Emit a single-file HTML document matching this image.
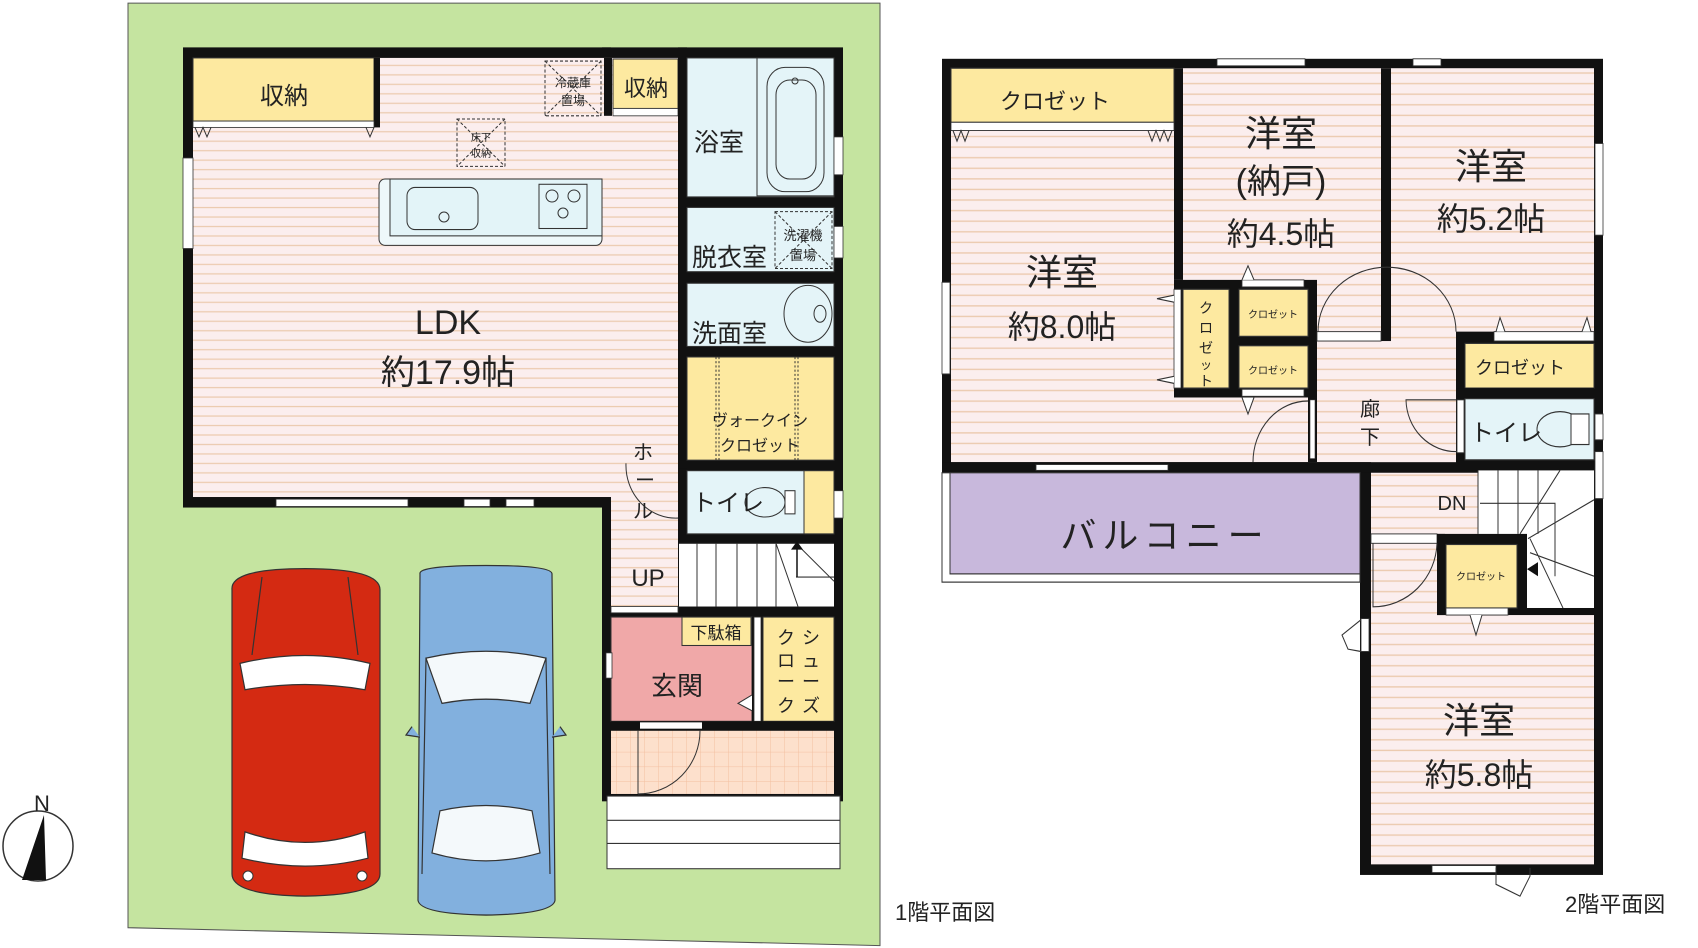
<!DOCTYPE html>
<html><head><meta charset="utf-8"><style>
html,body{margin:0;padding:0;background:#fff;}
svg{display:block}
text{font-family:"Liberation Sans","Noto Sans CJK JP",sans-serif;fill:#222}
</style></head><body>
<svg width="1698" height="948" viewBox="0 0 1698 948" xmlns="http://www.w3.org/2000/svg">
<defs>
<pattern id="fl" width="10" height="9" patternUnits="userSpaceOnUse">
<rect width="10" height="9" fill="#fbeeee"/><rect y="7.5" width="10" height="1.2" fill="#eccbb0"/>
</pattern>
<pattern id="tile" width="14" height="14" patternUnits="userSpaceOnUse">
<rect width="14" height="14" fill="#fde0cc"/><path d="M0 0H14M0 0V14" stroke="#f3bfa0" stroke-width="1"/>
</pattern>
</defs>

<g transform="scale(1,1.053)">
<polygon points="128,3 880,3 880,898 128,881" fill="#c5e4a0" stroke="#555" stroke-width="1"/>
<rect x="183" y="45" width="428" height="437" fill="#111"/>
<rect x="602" y="45" width="241" height="716" fill="#111"/>
<rect x="193" y="55" width="485" height="417" fill="url(#fl)"/>
<rect x="611" y="439" width="67" height="137" fill="url(#fl)"/>
<rect x="193" y="55" width="181" height="60" fill="#fde9a0" stroke="#333"/>
<rect x="374" y="55" width="6" height="66" fill="#111"/>
<rect x="193" y="115" width="181" height="6" fill="#fff" stroke="#333" stroke-width="0.8"/>
<path d="M195 121L199 130L203 121L207 130L211 121M366 121L370 130L374 121" fill="none" stroke="#333"/>
<rect x="604" y="55" width="8" height="55" fill="#111"/>
<rect x="613" y="56" width="65" height="47" fill="#fde9a0" stroke="#333"/>
<rect x="613" y="103" width="65" height="7" fill="#fff" stroke="#333" stroke-width="0.8"/>
<rect x="545" y="58" width="56" height="52" fill="none" stroke="#333" stroke-dasharray="3,2"/>
<path d="M545 58L601 110M601 58L545 110" stroke="#333" stroke-dasharray="3,2"/>
<rect x="457" y="113" width="48" height="45" fill="none" stroke="#333" stroke-dasharray="3,2"/>
<path d="M457 113L505 158M505 113L457 158" stroke="#333" stroke-dasharray="3,2"/>
<rect x="379" y="170" width="223" height="63" rx="6" fill="#eef8fa" stroke="#333"/>
<rect x="390" y="170" width="212" height="54" fill="#e3f4f8" stroke="#333"/>
<rect x="407" y="178" width="71" height="40" rx="8" fill="#e3f4f8" stroke="#333"/>
<rect x="539" y="175" width="48" height="42" fill="#e3f4f8" stroke="#333"/>
<rect x="183" y="150" width="10" height="86" fill="#fff" stroke="#333" stroke-width="0.8"/>
<rect x="276" y="474" width="132" height="7" fill="#fff" stroke="#333" stroke-width="0.8"/>
<rect x="464" y="474" width="26" height="7" fill="#fff" stroke="#333" stroke-width="0.8"/>
<rect x="506" y="474" width="28" height="7" fill="#fff" stroke="#333" stroke-width="0.8"/>
<rect x="678" y="45" width="9" height="400" fill="#111"/>
<rect x="687" y="55" width="147" height="132" fill="#e4f4f8" stroke="#333"/>
<rect x="757" y="55" width="77" height="131" fill="#e4f4f8" stroke="#333"/>
<rect x="767" y="64" width="57" height="118" rx="18" fill="#e4f4f8" stroke="#333"/>
<rect x="776" y="76" width="40" height="94" rx="14" fill="none" stroke="#333"/>
<rect x="687" y="197" width="147" height="61" fill="#e4f4f8" stroke="#333"/>
<rect x="775" y="201" width="57" height="54" fill="none" stroke="#333" stroke-dasharray="3,2"/>
<path d="M775 201L832 255M832 201L775 255" stroke="#333" stroke-dasharray="3,2"/>
<rect x="687" y="269" width="147" height="60" fill="#e4f4f8" stroke="#333"/>
<ellipse cx="808" cy="298" rx="24" ry="27" fill="#e4f4f8" stroke="#333"/>
<ellipse cx="820" cy="298" rx="6" ry="8" fill="none" stroke="#333"/>
<rect x="687" y="339" width="147" height="98" fill="#fde9a0" stroke="#333"/>
<path d="M716 339V437M719 339V437M795 339V437M798 339V437" stroke="#333" stroke-dasharray="2,2"/>
<rect x="687" y="447" width="147" height="60" fill="#e4f4f8" stroke="#333"/>
<rect x="804" y="447" width="30" height="60" fill="#fde9a0" stroke="#333"/>
<ellipse cx="765" cy="477" rx="20" ry="14" fill="none" stroke="#333"/>
<rect x="785" y="466" width="10" height="22" fill="#fff" stroke="#333"/>
<rect x="834" y="130" width="9" height="36" fill="#fff" stroke="#333" stroke-width="0.8"/>
<rect x="834" y="215" width="9" height="30" fill="#fff" stroke="#333" stroke-width="0.8"/>
<rect x="834" y="466" width="9" height="26" fill="#fff" stroke="#333" stroke-width="0.8"/>
<path d="M626 440 A50 50 0 0 0 678 492" fill="none" stroke="#333"/>
<rect x="679" y="516" width="155" height="60" fill="#fff"/>
<path d="M679 516H834M697 516V576M716 516V576M737 516V576M757 516V576M776 516V576M776 516L798 576M796 516L834 552M796 548H834" stroke="#333" fill="none"/>
<path d="M797 548V520" stroke="#111" stroke-width="1.5"/><polygon points="791,522 797,514 803,522" fill="#111"/>
<rect x="611" y="576" width="67" height="6" fill="#fff" stroke="#333" stroke-width="0.8"/>
<rect x="611" y="586" width="141" height="99" fill="#f0a8a8" stroke="#333"/>
<rect x="682" y="586" width="69" height="27" fill="#fde9a0" stroke="#333"/>
<rect x="752" y="586" width="11" height="99" fill="#111"/>
<rect x="754" y="586" width="7" height="99" fill="#fff" stroke="#333" stroke-width="0.8"/>
<rect x="763" y="586" width="71" height="99" fill="#fde9a0" stroke="#333"/>
<path d="M752 660L738 668L752 675" fill="#fff" stroke="#333"/>
<rect x="611" y="685" width="223" height="9" fill="#111"/>
<rect x="640" y="686" width="62" height="6" fill="#fff"/>
<rect x="611" y="694" width="223" height="60" fill="url(#tile)"/>
<path d="M638 694V754M700 694A62 60 0 0 1 638 754" stroke="#333" fill="none"/>
<rect x="606" y="620" width="6" height="24" fill="#fff" stroke="#333" stroke-width="0.8"/>
<rect x="607" y="756" width="233" height="69" fill="#fff" stroke="#333"/>
<path d="M607 779H840M607 801H840" stroke="#333"/>
<g stroke="#333" stroke-width="1.2">
<path d="M232 560Q230 540 305 540Q380 540 380 560L380 830Q380 850 305 851Q232 850 232 830Z" fill="#d42a12"/>
<path d="M240 630Q305 615 370 630L365 655Q305 645 245 655Z" fill="#fff"/>
<path d="M245 790Q305 810 365 790L368 815Q305 830 242 815Z" fill="#fff"/>
<path d="M262 548L252 622M348 548L358 622" fill="none"/>
<path d="M420 545Q418 537 486 537Q552 537 552 545L555 855Q553 868 486 869Q420 868 418 855Z" fill="#82b0de"/>
<path d="M426 625Q486 612 546 625L530 668Q486 660 442 668Z" fill="#f4f9fb"/>
<path d="M440 770Q486 760 532 770L540 810Q486 825 432 810Z" fill="#f4f9fb"/>
<path d="M412 690L406 698L420 700M560 690L566 698L552 700" fill="#82b0de"/>
<path d="M426 625L422 830M546 625L550 830" fill="none"/>
</g>
</g>
<circle cx="444" cy="217" r="5" fill="none" stroke="#333"/>
<circle cx="552" cy="196" r="6" fill="none" stroke="#333"/><circle cx="574" cy="196" r="6" fill="none" stroke="#333"/><circle cx="563" cy="213" r="5" fill="none" stroke="#333"/>
<circle cx="795" cy="81" r="3" fill="none" stroke="#333"/>
<circle cx="248" cy="876" r="5" fill="#fff" stroke="#333"/><circle cx="362" cy="876" r="5" fill="#fff" stroke="#333"/>

<text x="573" y="87" font-size="12" text-anchor="middle">冷蔵庫</text><text x="573" y="105" font-size="12" text-anchor="middle">置場</text>
<text x="481" y="141" font-size="10" text-anchor="middle">床下</text><text x="481" y="157" font-size="10" text-anchor="middle">収納</text>
<text x="803" y="240" font-size="13" text-anchor="middle">洗濯機</text><text x="803" y="260" font-size="13" text-anchor="middle">置場</text>
<text x="448" y="334" font-size="34" text-anchor="middle">LDK</text>
<text x="448" y="384" font-size="34" text-anchor="middle">約17.9帖</text>
<text x="284" y="104" font-size="24" text-anchor="middle">収納</text>
<text x="646" y="96" font-size="22" text-anchor="middle">収納</text>
<text x="694" y="151" font-size="25">浴室</text>
<text x="692" y="266" font-size="25">脱衣室</text>
<text x="692" y="342" font-size="25">洗面室</text>
<text x="760" y="426" font-size="16" text-anchor="middle">ヴォークイン</text>
<text x="760" y="451" font-size="16" text-anchor="middle">クロゼット</text>
<text x="692" y="511" font-size="24">トイレ</text>
<text x="643" y="459" font-size="20" text-anchor="middle">ホ</text>
<text x="645" y="487" font-size="20" text-anchor="middle">ー</text>
<text x="643" y="518" font-size="20" text-anchor="middle">ル</text>
<text x="648" y="586" font-size="24" text-anchor="middle">UP</text>
<text x="716" y="639" font-size="17" text-anchor="middle">下駄箱</text>
<text x="786" y="644" font-size="18" text-anchor="middle">ク</text><text x="786" y="667" font-size="18" text-anchor="middle">ロ</text><text x="786" y="688" font-size="18" text-anchor="middle">ー</text><text x="786" y="712" font-size="18" text-anchor="middle">ク</text>
<text x="811" y="644" font-size="18" text-anchor="middle">シ</text><text x="811" y="667" font-size="18" text-anchor="middle">ュ</text><text x="811" y="688" font-size="18" text-anchor="middle">ー</text><text x="811" y="712" font-size="18" text-anchor="middle">ズ</text>
<text x="677" y="695" font-size="26" text-anchor="middle">玄関</text>
<circle cx="38" cy="846" r="35" fill="#fff" stroke="#333" stroke-width="1.5"/>
<polygon points="44,815 22,880 46,880" fill="#111"/>
<text x="42" y="811" font-size="22" text-anchor="middle">N</text>
<text x="895" y="920" font-size="22">1階平面図</text>

<g transform="scale(1,1.176)">
<rect x="942" y="50" width="661" height="353" fill="#111"/>
<rect x="1360" y="393" width="243" height="351" fill="#111"/>
<rect x="951" y="58" width="643" height="335" fill="url(#fl)"/>
<rect x="1371" y="402" width="223" height="333" fill="url(#fl)"/>
<rect x="1174" y="58" width="9" height="180" fill="#111"/>
<rect x="1381" y="58" width="10" height="232" fill="#111"/>
<rect x="1174" y="238" width="143" height="100" fill="#111"/>
<rect x="1183" y="246" width="46" height="84" fill="#fde9a0" stroke="#333"/>
<rect x="1239" y="246" width="69" height="40" fill="#fde9a0" stroke="#333"/>
<rect x="1239" y="294" width="69" height="36" fill="#fde9a0" stroke="#333"/>
<rect x="1174" y="246" width="7" height="84" fill="#fff" stroke="#333" stroke-width="0.8"/>
<rect x="1242" y="238" width="62" height="6" fill="#fff" stroke="#333" stroke-width="0.8"/>
<rect x="1242" y="331" width="62" height="6" fill="#fff" stroke="#333" stroke-width="0.8"/>
<path d="M1174 251L1157 254L1174 257M1174 320L1157 323L1174 326" fill="#fff" stroke="#333"/>
<path d="M1242 238L1248 226L1254 238M1242 338L1248 352L1254 338" fill="#fff" stroke="#333"/>
<rect x="1308" y="338" width="9" height="55" fill="#111"/>
<rect x="1310" y="340" width="5" height="50" fill="#fff" stroke="#333" stroke-width="0.6"/>
<path d="M1308 341A55 52 0 0 0 1253 393" fill="none" stroke="#333"/>
<rect x="951" y="58" width="223" height="46" fill="#fde9a0" stroke="#333"/>
<rect x="951" y="104" width="223" height="7" fill="#fff" stroke="#333" stroke-width="0.8"/>
<path d="M953 111L957 120L961 111L965 120L969 111M1148 111L1152 120L1156 111L1160 120L1164 111L1168 120L1172 111" fill="none" stroke="#333"/>
<rect x="1217" y="50" width="88" height="6" fill="#fff" stroke="#333" stroke-width="0.8"/>
<rect x="1413" y="50" width="28" height="6" fill="#fff" stroke="#333" stroke-width="0.8"/>
<rect x="942" y="240" width="8" height="78" fill="#fff" stroke="#333" stroke-width="0.8"/>
<rect x="1595" y="122" width="8" height="78" fill="#fff" stroke="#333" stroke-width="0.8"/>
<rect x="1595" y="352" width="8" height="22" fill="#fff" stroke="#333" stroke-width="0.8"/>
<rect x="1595" y="384" width="8" height="40" fill="#fff" stroke="#333" stroke-width="0.8"/>
<rect x="1317" y="282" width="64" height="8" fill="#fff" stroke="#333" stroke-width="0.8"/>
<path d="M1318 282A68 54 0 0 1 1456 282" fill="none" stroke="#333"/>
<rect x="1456" y="282" width="138" height="66" fill="#111"/>
<rect x="1494" y="282" width="100" height="8" fill="#fff" stroke="#333" stroke-width="0.8"/>
<path d="M1496 282L1500 270L1505 282M1582 282L1587 270L1591 282" fill="#fff" stroke="#333"/>
<rect x="1465" y="292" width="129" height="38" fill="#fde9a0" stroke="#333"/>
<rect x="1456" y="330" width="138" height="70" fill="#111"/>
<rect x="1465" y="339" width="129" height="52" fill="#e4f4f8" stroke="#333"/>
<rect x="1457" y="340" width="7" height="45" fill="#fff" stroke="#333" stroke-width="0.8"/>
<path d="M1457 384A50 45 0 0 1 1406 340H1456" fill="none" stroke="#333"/>
<ellipse cx="1560" cy="365" rx="23" ry="15" fill="none" stroke="#333"/>
<rect x="1571" y="352" width="18" height="26" fill="#fff" stroke="#333"/>
<rect x="1478" y="400" width="116" height="118" fill="#fff"/>
<path d="M1478 400V454M1498 400V454M1518 400V454M1538 400V454M1480 428H1555V490M1560 400L1520 454M1594 425L1528 458M1530 470L1594 490M1530 458L1563 517" stroke="#333" fill="none"/>
<rect x="1437" y="454" width="90" height="69" fill="#111"/>
<rect x="1446" y="463" width="71" height="54" fill="#fde9a0" stroke="#333"/>
<rect x="1446" y="517" width="62" height="6" fill="#fff" stroke="#333" stroke-width="0.8"/>
<path d="M1470 523L1476 540L1482 523" fill="#fff" stroke="#333"/>
<polygon points="1527,484 1538,478 1538,490" fill="#111"/>
<rect x="1527" y="517" width="67" height="6" fill="#111"/>
<rect x="1371" y="454" width="66" height="8" fill="#fff" stroke="#333" stroke-width="0.8"/>
<rect x="1437" y="454" width="8" height="69" fill="#111"/>
<path d="M1373 462V516A64 56 0 0 0 1437 462" fill="none" stroke="#333"/>
<rect x="942" y="393" width="429" height="9" fill="#111"/>
<rect x="942" y="393" width="8" height="40" fill="#111"/>
<rect x="942" y="402" width="418" height="93" fill="#fff" stroke="#333"/>
<rect x="950" y="402" width="410" height="86" fill="#c8b8dc" stroke="#333"/>
<rect x="1036" y="395" width="132" height="5" fill="#fff" stroke="#333" stroke-width="0.8"/>
<rect x="1361" y="526" width="8" height="28" fill="#fff" stroke="#333" stroke-width="0.8"/>
<path d="M1361 527L1342 540L1348 552L1361 554" fill="none" stroke="#333"/>
<rect x="1432" y="736" width="64" height="6" fill="#fff" stroke="#333" stroke-width="0.8"/>
<path d="M1496 738L1496 752L1520 762L1530 745L1530 738" fill="none" stroke="#333"/>
</g>
<text x="1055" y="109" font-size="22" text-anchor="middle">クロゼット</text>
<text x="1206" y="313" font-size="14" text-anchor="middle">ク</text><text x="1206" y="333" font-size="14" text-anchor="middle">ロ</text><text x="1206" y="353" font-size="14" text-anchor="middle">ゼ</text><text x="1206" y="369" font-size="12" text-anchor="middle">ッ</text><text x="1206" y="386" font-size="14" text-anchor="middle">ト</text>
<text x="1273" y="318" font-size="10" text-anchor="middle">クロゼット</text>
<text x="1273" y="374" font-size="10" text-anchor="middle">クロゼット</text>
<text x="1520" y="374" font-size="18" text-anchor="middle">クロゼット</text>
<text x="1470" y="441" font-size="24">トイレ</text>
<text x="1370" y="416" font-size="20" text-anchor="middle">廊</text>
<text x="1370" y="444" font-size="20" text-anchor="middle">下</text>
<text x="1452" y="510" font-size="20" text-anchor="middle">DN</text>
<text x="1481" y="580" font-size="10" text-anchor="middle">クロゼット</text>
<text x="1165" y="548" font-size="36" text-anchor="middle" letter-spacing="6">バルコニー</text>
<text x="1062" y="285" font-size="36" text-anchor="middle">洋室</text>
<text x="1062" y="338" font-size="32" text-anchor="middle">約8.0帖</text>
<text x="1281" y="146" font-size="36" text-anchor="middle">洋室</text>
<text x="1281" y="193" font-size="34" text-anchor="middle">(納戸)</text>
<text x="1281" y="245" font-size="32" text-anchor="middle">約4.5帖</text>
<text x="1491" y="179" font-size="36" text-anchor="middle">洋室</text>
<text x="1491" y="230" font-size="32" text-anchor="middle">約5.2帖</text>
<text x="1479" y="733" font-size="36" text-anchor="middle">洋室</text>
<text x="1479" y="786" font-size="32" text-anchor="middle">約5.8帖</text>
<text x="1565" y="912" font-size="22">2階平面図</text>
</svg>
</body></html>
